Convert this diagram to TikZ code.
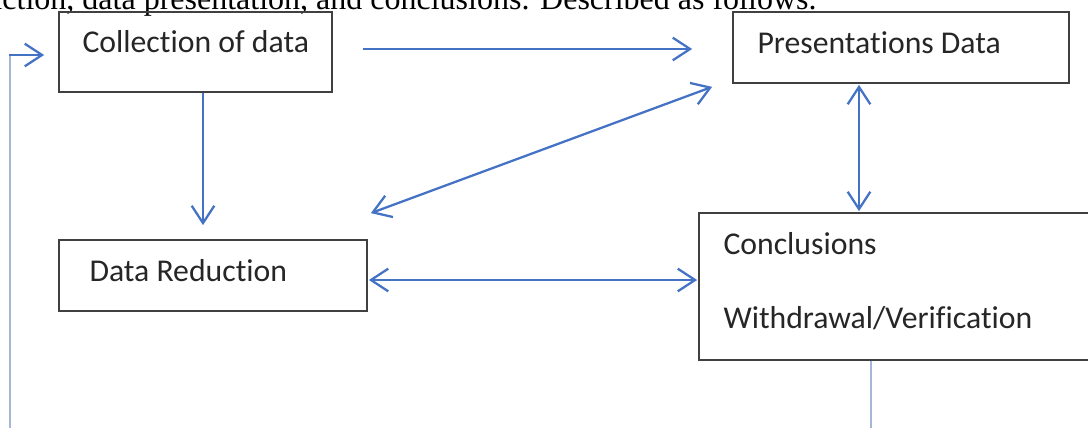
\documentclass[tikz,border=0pt]{standalone}
\usepackage{fontspec}
\usetikzlibrary{arrows.meta}
\newfontfamily\boxfont[Ligatures=NoCommon]{Carlito}
\newfontfamily\bodyfont{Liberation Serif}
\definecolor{arrowblue}{RGB}{68,114,196}
\definecolor{backblue}{RGB}{166,182,216}
\definecolor{boxgray}{RGB}{64,64,64}
\tikzset{every picture/.style={line width=0.75pt}}
\tikzset{
  box/.style={draw=boxgray, line width=1.3pt, rectangle, inner sep=0pt},
  boxtext/.style={anchor=base west, inner sep=0pt, font=\boxfont\fontsize{23.8}{28}\selectfont, text=black!85},
  flow/.style={draw=arrowblue, line width=1.7pt, -{Straight Barb[length=13pt,width=17pt,line width=1.7pt]}},
  flowboth/.style={flow, {Straight Barb[length=13pt,width=17pt,line width=1.7pt]}-{Straight Barb[length=13pt,width=17pt,line width=1.7pt]}},
  back/.style={draw=backblue, line width=1.7pt}
}

\begin{document}
\begin{tikzpicture}[x=0.75pt,y=0.75pt,yscale=-1,xscale=1]
    \useasboundingbox (0,0) rectangle (1088,428);

    % Running text cut off at the top
    \node (caption) [anchor=base east, inner sep=0pt, font=\bodyfont\fontsize{24}{29}\selectfont] at (817,10) {reduction, data presentation, and conclusions. Described as follows.};

    % Boxes
    \node (collect) [box, minimum width=204.75pt, minimum height=60pt] at (195.5,52) {};
    \node (present) [box, minimum width=252pt, minimum height=53.25pt] at (901,47.5) {};
    \node (reduce)  [box, minimum width=231pt, minimum height=53.25pt] at (213,275.5) {};
    \node (concl)   [box, minimum width=297pt, minimum height=110.25pt] at (897,286.5) {};

    % Box texts
    \node (collect-txt) [boxtext] at (82,53) {Collection of data};
    \node (present-txt) [boxtext] at (757,54) {Presentations Data};
    \node (reduce-txt)  [boxtext] at (89,281) {Data Reduction};
    \node (concl-txt1)  [boxtext] at (723,254) {Conclusions};
    \node (concl-txt2)  [boxtext] at (723,328) {Withdrawal/Verification};

    % Arrows
    \draw [flow] ([shift={(30,-3)}]collect.east) -- ([shift={(-40,-3)}]collect.east -| present.west);
    \draw [flow] ([shift={(7.5,0)}]collect.south) -- ([shift={(7.5,-14)}]collect.south |- reduce.north);
    \draw [flowboth] ([shift={(3,-26)}]reduce.north east) -- ([shift={(-20,3)}]present.south west);
    \draw [flowboth] ([shift={(-42,1)}]present.south) -- ([shift={(-42,-1)}]present.south |- concl.north);
    \draw [flowboth] ([shift={(1,4.5)}]reduce.east) -- ([shift={(-1,4.5)}]reduce.east -| concl.west);

    % Feedback loop
    \coordinate (loop-in) at (10,55);
    \coordinate (loop-bot) at (10,440);
    \draw [back] ([shift={(-26,0)}]concl.south) -- ++(0,80);
    \draw [back] (loop-bot) -- (loop-in);
    \draw [flow] ([shift={(-1,0)}]loop-in) -- ([shift={(-14,3)}]collect.west);
\end{tikzpicture}
\end{document}
